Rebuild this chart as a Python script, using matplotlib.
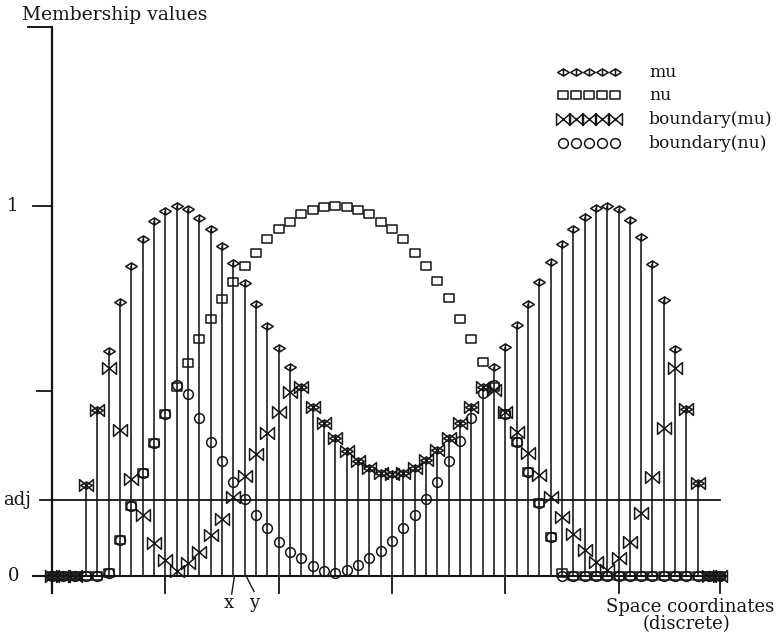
import numpy as np
import matplotlib
matplotlib.use("Agg")
import matplotlib.pyplot as plt
from matplotlib.path import Path

# ---------------------------------------------------------------
# Discrete space coordinates and membership values
# ---------------------------------------------------------------
k = np.arange(60)

mu = [0.0, 0.0, 0.0, 0.246, 0.449, 0.609, 0.741, 0.839, 0.912, 0.959,
      0.986, 1.0, 0.992, 0.968, 0.937, 0.893, 0.847, 0.793, 0.734, 0.676,
      0.617, 0.564, 0.511, 0.458, 0.414, 0.373, 0.339, 0.312, 0.292, 0.278,
      0.276, 0.278, 0.292, 0.314, 0.341, 0.373, 0.414, 0.458, 0.511, 0.566,
      0.620, 0.678, 0.736, 0.795, 0.849, 0.896, 0.939, 0.971, 0.995, 1.0,
      0.991, 0.963, 0.917, 0.843, 0.745, 0.613, 0.451, 0.251, 0.0, 0.0]

nu = [0.0, 0.0, 0.0, 0.0, 0.0, 0.007, 0.097, 0.189, 0.278, 0.360,
      0.438, 0.510, 0.576, 0.640, 0.694, 0.748, 0.795, 0.839, 0.874, 0.910,
      0.937, 0.958, 0.978, 0.989, 0.996, 1.0, 0.996, 0.989, 0.978, 0.958,
      0.937, 0.910, 0.874, 0.839, 0.797, 0.751, 0.695, 0.641, 0.579, 0.510,
      0.438, 0.363, 0.282, 0.196, 0.106, 0.008, 0.0, 0.0, 0.0, 0.0,
      0.0, 0.0, 0.0, 0.0, 0.0, 0.0, 0.0, 0.0, 0.0, 0.0]

boundary_mu = [0.0, 0.0, 0.0, 0.246, 0.449, 0.562, 0.395, 0.262, 0.165, 0.090,
               0.043, 0.014, 0.036, 0.066, 0.111, 0.155, 0.213, 0.270, 0.330, 0.387,
               0.442, 0.496, 0.511, 0.458, 0.414, 0.373, 0.339, 0.312, 0.292, 0.278,
               0.276, 0.278, 0.292, 0.314, 0.341, 0.373, 0.414, 0.458, 0.511, 0.503,
               0.444, 0.390, 0.332, 0.273, 0.214, 0.160, 0.113, 0.070, 0.039, 0.016,
               0.048, 0.093, 0.169, 0.267, 0.399, 0.561, 0.451, 0.251, 0.0, 0.0]

boundary_nu = [0.0, 0.0, 0.0, 0.0, 0.0, 0.007, 0.097, 0.189, 0.278, 0.360,
               0.438, 0.515, 0.492, 0.426, 0.363, 0.311, 0.255, 0.208, 0.165, 0.129,
               0.093, 0.066, 0.048, 0.028, 0.014, 0.009, 0.016, 0.030, 0.048, 0.068,
               0.095, 0.131, 0.165, 0.208, 0.255, 0.311, 0.366, 0.428, 0.494, 0.516,
               0.438, 0.363, 0.282, 0.196, 0.106, 0.0, 0.0, 0.0, 0.0, 0.0,
               0.0, 0.0, 0.0, 0.0, 0.0, 0.0, 0.0, 0.0, 0.0, 0.0]

adj = 0.205
y_ticks = [0.0, 0.5, 1.0]
x_ticks = [0, 10, 20, 30, 40, 50, 59]
series_labels = ["mu", "nu", "boundary(mu)", "boundary(nu)"]

# ---------------------------------------------------------------
# Marker shapes
# ---------------------------------------------------------------
eye = Path([(-1, 0), (0, 0.62), (1, 0), (0, -0.62), (-1, 0), (0, 0.62), (0, -0.62)],
           [Path.MOVETO, Path.LINETO, Path.LINETO, Path.LINETO, Path.CLOSEPOLY,
            Path.MOVETO, Path.LINETO])
bowtie = Path([(-1, -0.85), (1, 0.85), (1, -0.85), (-1, 0.85), (-1, -0.85)],
              [Path.MOVETO, Path.LINETO, Path.LINETO, Path.LINETO, Path.CLOSEPOLY])
box = Path([(-1, -0.85), (1, -0.85), (1, 0.85), (-1, 0.85), (-1, -0.85)],
           [Path.MOVETO, Path.LINETO, Path.LINETO, Path.LINETO, Path.CLOSEPOLY])

INK = "#151515"
FONT = ["DejaVu Serif"]
FS = 13

styles = [
    dict(marker=eye, ms=8.3),
    dict(marker=box, ms=7.6),
    dict(marker=bowtie, ms=10.0),
    dict(marker="o", ms=7.0),
]

fig = plt.figure(figsize=(7.76, 6.34), dpi=100)
ax = fig.add_axes([0, 0, 1, 1])
ax.set_xlim(-52 / 11.33, (776 - 52) / 11.33)
ax.set_ylim(-(634 - 576) / 370, 576 / 370)
ax.axis("off")

# stems from the axis up to each mu value
mu_arr = np.array(mu)
has_stem = mu_arr > 0
ax.vlines(k[has_stem], 0, mu_arr[has_stem], colors=INK, lw=1.15, zorder=2)

# axes, ticks and reference line
ax.plot([0, 0], [-0.046, 1.484], color=INK, lw=1.6, zorder=3)
ax.plot([-2.12, 0], [1.484, 1.484], color=INK, lw=1.4, zorder=3)
ax.plot([-1.68, 59.6], [0, 0], color=INK, lw=1.5, zorder=3)
ax.plot([-1.68, 0], [1.0, 1.0], color=INK, lw=1.3, zorder=3)
ax.plot([-1.32, 0], [0.5, 0.5], color=INK, lw=1.3, zorder=3)
ax.plot([-1.06, 58.96], [adj, adj], color=INK, lw=1.3, zorder=3)
for t in x_ticks[1:]:
    ax.plot([t, t], [0, -0.046], color=INK, lw=1.3, zorder=3)

# data markers
for vals, st in zip([mu, nu, boundary_mu, boundary_nu], styles):
    ax.plot(k, vals, ls="none", marker=st["marker"], ms=st["ms"],
            mfc="none", mec=INK, mew=1.1, zorder=4)

# legend rows
leg_k = 45.1 + 1.147 * np.arange(5)
leg_v = [1.362, 1.300, 1.235, 1.170]
for lab, st, lv in zip(series_labels, styles, leg_v):
    ax.plot(leg_k, np.full(5, lv), ls="none", marker=st["marker"], ms=st["ms"],
            mfc="none", mec=INK, mew=1.1)
    ax.text(52.69, lv, lab, ha="left", va="center", fontsize=12.3,
            family=FONT, color=INK)

# axis texts
ax.text(-2.65, 1.516, "Membership values", ha="left", va="center",
        fontsize=FS + 0.5, family=FONT, color=INK)
ax.text(-3.53, 1.0, "1", ha="center", va="center", fontsize=FS, family=FONT, color=INK)
ax.text(-3.1, adj, "adj", ha="center", va="center", fontsize=FS, family=FONT, color=INK)
ax.text(-3.35, 0.0, "0", ha="center", va="center", fontsize=FS, family=FONT, color=INK)

# marked crossing points
ax.plot([16.09, 15.86], [-0.003, -0.049], color=INK, lw=1.0)
ax.plot([17.18, 17.83], [-0.003, -0.042], color=INK, lw=1.0)
ax.text(15.65, -0.072, "x", ha="center", va="center", fontsize=FS, family=FONT, color=INK)
ax.text(17.8, -0.072, "y", ha="center", va="center", fontsize=FS, family=FONT, color=INK)

ax.text(56.3, -0.083, "Space coordinates", ha="center", va="center",
        fontsize=FS, family=FONT, color=INK)
ax.text(55.96, -0.130, "(discrete)", ha="center", va="center",
        fontsize=FS, family=FONT, color=INK)

fig.savefig("out.png", dpi=100, facecolor="white")
